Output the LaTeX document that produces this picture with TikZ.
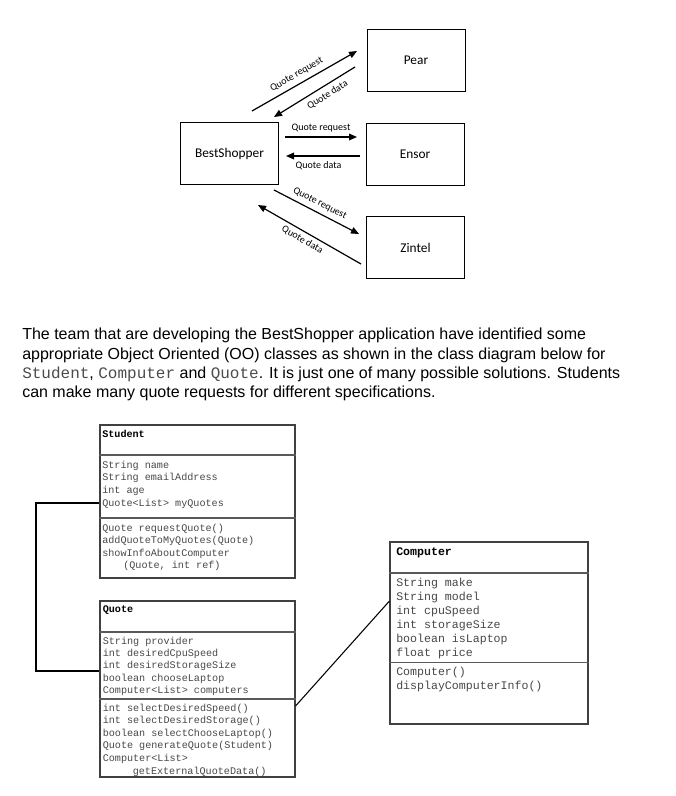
\documentclass[tikz,border=0pt]{standalone}
\usepackage{fontspec}
\setmainfont{Liberation Sans}
\setmonofont{Liberation Mono}
\newfontfamily\calibri{Carlito}
\usetikzlibrary{arrows.meta,fit}

\tikzset{
	agent/.style={draw,line width=0.75pt,minimum width=73.5pt,minimum height=46.5pt,inner sep=0pt,font=\calibri\fontsize{10}{12}\selectfont},
	msg/.style={line width=0.9pt,-{Triangle[length=6pt,width=5pt]}},
	msglabel/.style={font=\calibri\fontsize{7.5}{9}\selectfont,inner sep=1pt},
	classbox/.style={draw=black!75,line width=0.8pt,inner sep=0pt},
	sep/.style={draw=black!65,line width=0.8pt},
	member/.style={anchor=base west,inner sep=0pt,text=black!72},
	assoc/.style={line width=1pt}
}
\newcommand{\code}[1]{\textcolor{black!70}{\texttt{#1}}}

\begin{document}
\begin{tikzpicture}[x=0.75pt,y=-0.75pt]
	\useasboundingbox (0,0) rectangle (675,796);
	
	%TOP: BESTSHOPPER AND SUPPLIERS
	\node[agent] (best) at (229.5,153.5) {BestShopper};
	\node[agent] (pear) at (416,60) {Pear};
	\node[agent] (ensor) at (415,154) {Ensor};
	\node[agent] (zintel) at (415.5,247.5) {Zintel};
	
	\coordinate (pr1) at (252,111); \coordinate (pr2) at (357,51);
	\coordinate (pd1) at (355,67);  \coordinate (pd2) at (274,117);
	\coordinate (er1) at (285,137); \coordinate (er2) at (357,137);
	\coordinate (ed1) at (360,156); \coordinate (ed2) at (286,156);
	\coordinate (zr1) at (274,190); \coordinate (zr2) at (359,234);
	\coordinate (zd1) at (361,264); \coordinate (zd2) at (258,205);
	
	\draw[msg] (pr1)--(pr2) node[msglabel,sloped,above=2.5pt,pos=0.47] {Quote request};
	\draw[msg] (pd1)--(pd2) node[msglabel,sloped,below=2.5pt,pos=0.40] {Quote data};
	\draw[msg] (er1)--(er2) node[msglabel,above=2.5pt,midway] {Quote request};
	\draw[msg] (ed1)--(ed2) node[msglabel,below=2.5pt,pos=0.56] {Quote data};
	\draw[msg] (zr1)--(zr2) node[msglabel,sloped,above=2.3pt,pos=0.49] {Quote request};
	\draw[msg] (zd1)--(zd2) node[msglabel,sloped,below=1.5pt,pos=0.53] {Quote data};
	
	%TEXT
	\node[align=left,anchor=north west,inner sep=0pt,font=\fontsize{12}{14.5}\selectfont] (intro) at (22,328) {
		The team that are developing the BestShopper application have identified some\\
		appropriate Object Oriented (OO) classes as shown in the class diagram below for\\
		\code{Student}, \code{Computer} and \code{Quote}. It is just one of many possible solutions. Students\\
		can make many quote requests for different specifications.
	};
	
	%STUDENT
	\node[classbox,fit={(100,425) (295,578)}] (student) {};
	\draw[sep] (student.west |- 0,455)--(student.east |- 0,455);
	\draw[sep] (student.west |- 0,518)--(student.east |- 0,518);
	\begin{scope}[every node/.append style={font=\ttfamily\fontsize{7.6}{9}\selectfont}]
		\node[member,text=black,font=\ttfamily\bfseries\fontsize{7.6}{9}\selectfont] (student-name) at (102,437) {Student};
		\foreach \txt [count=\i from 0] in {String name,String emailAddress,int age,Quote<List> myQuotes}
			\node[member] (stu-attr\i) at (102,{468+12.7*\i}) {\txt};
		\foreach \dx/\txt [count=\i from 0] in {0/Quote requestQuote(),0/addQuoteToMyQuotes(Quote),0/showInfoAboutComputer,21/{(Quote, int ref)}}
			\node[member] (stu-op\i) at ({102+\dx},{531+12.6*\i}) {\txt};
	\end{scope}
	
	%QUOTE
	\node[classbox,fit={(100,601) (295,777)}] (quote) {};
	\draw[sep] (quote.west |- 0,632)--(quote.east |- 0,632);
	\draw[sep] (quote.west |- 0,699)--(quote.east |- 0,699);
	\begin{scope}[every node/.append style={font=\ttfamily\fontsize{7.6}{9}\selectfont}]
		\node[member,text=black,font=\ttfamily\bfseries\fontsize{7.6}{9}\selectfont] (quote-name) at (102.5,612) {Quote};
		\foreach \txt [count=\i from 0] in {String provider,int desiredCpuSpeed,int desiredStorageSize,boolean chooseLaptop,Computer<List> computers}
			\node[member] (quo-attr\i) at (102.5,{644+12.4*\i}) {\txt};
		\foreach \dx/\txt [count=\i from 0] in {0/int selectDesiredSpeed(),0/int selectDesiredStorage(),0/boolean selectChooseLaptop(),0/Quote generateQuote(Student),0/Computer<List>,30/getExternalQuoteData()}
			\node[member] (quo-op\i) at ({102.5+\dx},{711+12.6*\i}) {\txt};
	\end{scope}
	
	%COMPUTER
	\node[classbox,fit={(390,542) (588,724)}] (computer) {};
	\draw[sep] (computer.west |- 0,573)--(computer.east |- 0,573);
	\draw[sep] (computer.west |- 0,662.5)--(computer.east |- 0,662.5);
	\begin{scope}[every node/.append style={font=\ttfamily\fontsize{8.7}{10}\selectfont}]
		\node[member,text=black,font=\ttfamily\bfseries\fontsize{8.7}{10}\selectfont] (computer-name) at (396,555) {Computer};
		\foreach \txt [count=\i from 0] in {String make,String model,int cpuSpeed,int storageSize,boolean isLaptop,float price}
			\node[member] (com-attr\i) at (396,{586.5+14*\i}) {\txt};
		\foreach \txt [count=\i from 0] in {Computer(),displayComputerInfo()}
			\node[member] (com-op\i) at (396,{675+14*\i}) {\txt};
	\end{scope}
	
	%ASSOCIATIONS
	\coordinate (bend) at (36,0);
	\draw[assoc] (student.west |- 0,503)--(bend |- 0,503)--(bend |- 0,671)--(quote.west |- 0,671); %student--quote
	\draw[line width=0.8pt] (quote.east |- 0,706)--(computer.west |- 0,601); %quote--computer
\end{tikzpicture}
\end{document}
